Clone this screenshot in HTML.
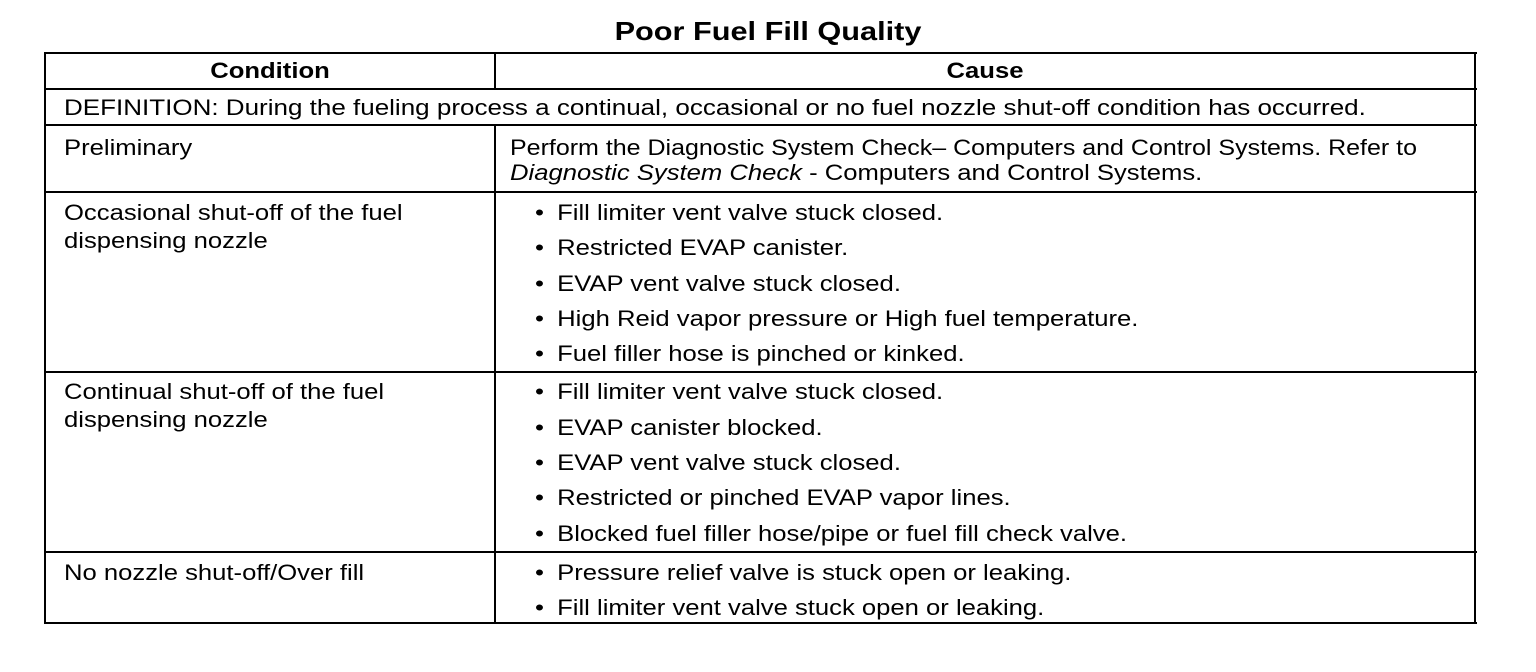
<!DOCTYPE html>
<html><head><meta charset="utf-8"><style>
body{margin:0;width:1536px;height:672px;background:#fff;position:relative;overflow:hidden;font-family:"Liberation Sans",Arial,sans-serif;color:#000}
.h{position:absolute;height:2px;background:#000}
.v{position:absolute;width:2px;background:#000}
.t{position:absolute;font-size:22px;line-height:24px;white-space:nowrap;transform:scaleX(1.165);transform-origin:0 50%}
.c{transform-origin:50% 50%}
.b{position:absolute;font-size:22px;line-height:24px;white-space:nowrap;left:535px;transform:scaleX(1.165);transform-origin:0 50%}
.b::before{content:"•";position:absolute;left:0}
.b span{margin-left:19px}
</style></head><body>
<div class="t c" style="left:0;width:1536px;text-align:center;top:16px;font-size:26px;line-height:30px;font-weight:bold;transform:scaleX(1.18)">Poor Fuel Fill Quality</div>
<div class="h" style="left:44px;width:1433px;top:52px"></div>
<div class="h" style="left:44px;width:1433px;top:88px"></div>
<div class="h" style="left:44px;width:1433px;top:124px"></div>
<div class="h" style="left:44px;width:1433px;top:191px"></div>
<div class="h" style="left:44px;width:1433px;top:371px"></div>
<div class="h" style="left:44px;width:1433px;top:551px"></div>
<div class="h" style="left:44px;width:1433px;top:622px"></div>
<div class="v" style="left:44px;top:52px;height:572px"></div>
<div class="v" style="left:1474px;top:52px;height:572px"></div>
<div class="v" style="left:494px;top:52px;height:37px"></div>
<div class="v" style="left:494px;top:124px;height:500px"></div>
<div class="t c" style="left:46px;width:448px;text-align:center;top:59px;font-weight:bold">Condition</div>
<div class="t c" style="left:496px;width:978px;text-align:center;top:59px;font-weight:bold">Cause</div>
<div class="t" style="left:64px;top:96px;transform:scaleX(1.182)">DEFINITION: During the fueling process a continual, occasional or no fuel nozzle shut-off condition has occurred.</div>
<div class="t" style="left:64px;top:136px">Preliminary</div>
<div class="t" style="left:510px;top:136px;transform:scaleX(1.136)">Perform the Diagnostic System Check– Computers and Control Systems. Refer to</div>
<div class="t" style="left:510px;top:161px"><i>Diagnostic System Check</i> - Computers and Control Systems.</div>
<div class="t" style="left:64px;top:201px">Occasional shut-off of the fuel</div>
<div class="t" style="left:64px;top:229px">dispensing nozzle</div>
<div class="b" style="top:201px"><span>Fill limiter vent valve stuck closed.</span></div>
<div class="b" style="top:236px"><span>Restricted EVAP canister.</span></div>
<div class="b" style="top:272px"><span>EVAP vent valve stuck closed.</span></div>
<div class="b" style="top:307px"><span>High Reid vapor pressure or High fuel temperature.</span></div>
<div class="b" style="top:342px"><span>Fuel filler hose is pinched or kinked.</span></div>
<div class="t" style="left:64px;top:380px">Continual shut-off of the fuel</div>
<div class="t" style="left:64px;top:408px">dispensing nozzle</div>
<div class="b" style="top:380px"><span>Fill limiter vent valve stuck closed.</span></div>
<div class="b" style="top:416px"><span>EVAP canister blocked.</span></div>
<div class="b" style="top:451px"><span>EVAP vent valve stuck closed.</span></div>
<div class="b" style="top:486px"><span>Restricted or pinched EVAP vapor lines.</span></div>
<div class="b" style="top:522px"><span>Blocked fuel filler hose/pipe or fuel fill check valve.</span></div>
<div class="t" style="left:64px;top:561px">No nozzle shut-off/Over fill</div>
<div class="b" style="top:561px"><span>Pressure relief valve is stuck open or leaking.</span></div>
<div class="b" style="top:596px"><span>Fill limiter vent valve stuck open or leaking.</span></div>
</body></html>
